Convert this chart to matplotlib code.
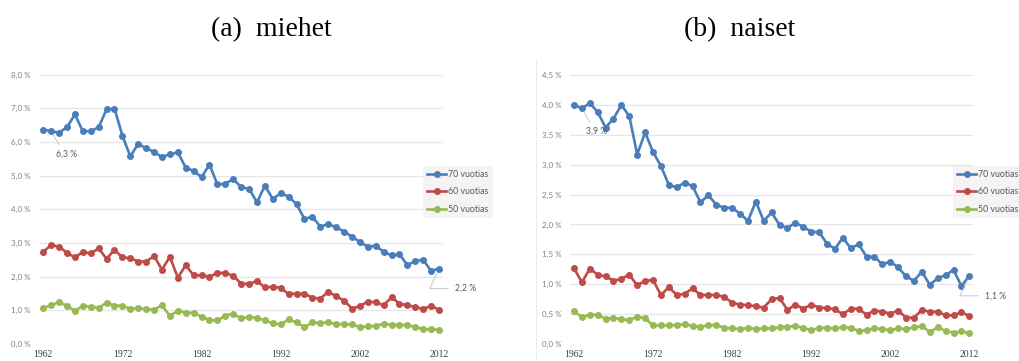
import matplotlib
matplotlib.use("Agg")
import matplotlib.pyplot as plt
from matplotlib.lines import Line2D

# kuolleisuus ikäryhmittäin, 1962-2012
vuodet = list(range(1962, 2013))

miehet_70 = [6.37, 6.32, 6.28, 6.44, 6.82, 6.32, 6.32, 6.44, 6.97, 6.99,
             6.19, 5.57, 5.95, 5.81, 5.71, 5.55, 5.64, 5.69, 5.24, 5.14,
             4.96, 5.33, 4.74, 4.76, 4.90, 4.66, 4.61, 4.21, 4.70, 4.31,
             4.48, 4.38, 4.15, 3.72, 3.78, 3.49, 3.56, 3.47, 3.34, 3.19,
             3.03, 2.89, 2.92, 2.74, 2.63, 2.67, 2.34, 2.47, 2.50, 2.17, 2.24]
miehet_60 = [2.74, 2.94, 2.89, 2.71, 2.57, 2.74, 2.69, 2.84, 2.53, 2.80,
             2.57, 2.55, 2.45, 2.45, 2.61, 2.21, 2.59, 1.97, 2.34, 2.04,
             2.04, 1.99, 2.12, 2.10, 2.03, 1.79, 1.79, 1.87, 1.68, 1.70,
             1.67, 1.48, 1.50, 1.49, 1.38, 1.35, 1.55, 1.42, 1.29, 1.05,
             1.13, 1.26, 1.24, 1.15, 1.39, 1.20, 1.15, 1.10, 1.04, 1.13, 1.02]
miehet_50 = [1.07, 1.15, 1.25, 1.13, 0.99, 1.13, 1.11, 1.07, 1.23, 1.14,
             1.14, 1.04, 1.08, 1.03, 1.02, 1.15, 0.83, 0.99, 0.93, 0.93,
             0.81, 0.71, 0.70, 0.84, 0.90, 0.76, 0.81, 0.77, 0.70, 0.61,
             0.58, 0.73, 0.64, 0.50, 0.64, 0.62, 0.65, 0.59, 0.59, 0.58,
             0.50, 0.52, 0.54, 0.60, 0.57, 0.56, 0.57, 0.50, 0.44, 0.44, 0.42]

naiset_70 = [4.00, 3.94, 4.03, 3.88, 3.62, 3.77, 4.00, 3.81, 3.17, 3.54,
             3.21, 2.98, 2.66, 2.62, 2.70, 2.64, 2.37, 2.49, 2.33, 2.28,
             2.28, 2.18, 2.06, 2.38, 2.06, 2.20, 1.99, 1.94, 2.03, 1.96,
             1.88, 1.87, 1.68, 1.59, 1.78, 1.60, 1.67, 1.46, 1.46, 1.33,
             1.38, 1.28, 1.13, 1.06, 1.21, 0.99, 1.10, 1.15, 1.24, 0.97, 1.14]
naiset_60 = [1.27, 1.03, 1.26, 1.16, 1.13, 1.06, 1.09, 1.16, 0.98, 1.06,
             1.07, 0.82, 0.95, 0.82, 0.84, 0.93, 0.82, 0.82, 0.82, 0.79,
             0.69, 0.66, 0.65, 0.63, 0.61, 0.75, 0.77, 0.57, 0.66, 0.59,
             0.66, 0.61, 0.60, 0.58, 0.50, 0.59, 0.59, 0.49, 0.56, 0.54,
             0.51, 0.56, 0.44, 0.44, 0.57, 0.54, 0.54, 0.48, 0.48, 0.53, 0.47]
naiset_50 = [0.55, 0.45, 0.49, 0.49, 0.42, 0.44, 0.41, 0.40, 0.46, 0.43,
             0.31, 0.31, 0.31, 0.32, 0.33, 0.30, 0.29, 0.31, 0.32, 0.27,
             0.26, 0.25, 0.27, 0.25, 0.26, 0.26, 0.28, 0.29, 0.30, 0.27,
             0.23, 0.27, 0.27, 0.26, 0.28, 0.27, 0.22, 0.23, 0.26, 0.25,
             0.23, 0.26, 0.25, 0.28, 0.30, 0.20, 0.28, 0.22, 0.19, 0.21, 0.18]

sarjat = ["70 vuotias", "60 vuotias", "50 vuotias"]
varit = ["#4a7ebb", "#be4b48", "#98b954"]
x_tikit = [1962, 1972, 1982, 1992, 2002, 2012]

W, H = 1020, 361
fig = plt.figure(figsize=(W / 100, H / 100), dpi=100)
fig.patch.set_facecolor("white")


def pros(v, des=1):
    return f"{v:.{des}f}".replace(".", ",") + " %"


def piirra(rect, data, ymax, ystep, otsikko, otsikko_x, leg_x, eka_idx):
    ax = fig.add_axes(rect)
    for arvot, nimi, vari in zip(data, sarjat, varit):
        ax.plot(vuodet, arvot, color=vari, lw=1.9, marker="o", ms=4.0,
                label=nimi, solid_joinstyle="round", zorder=3)
    ax.set_xlim(1961.5, 2012.5)
    ax.set_ylim(0, ymax)
    yt = [i * ystep for i in range(int(round(ymax / ystep)) + 1)]
    ax.set_yticks(yt)
    ax.set_yticklabels([pros(v) for v in yt], fontsize=5.8,
                       color="#7f7f7f", family="Lato")
    ax.set_xticks(x_tikit)
    ax.set_xticklabels([str(v) for v in x_tikit], fontsize=7,
                       color="#404040", family="Liberation Serif")
    ax.tick_params(length=0, pad=6)
    ax.tick_params(axis="x", pad=4)
    for s in ax.spines.values():
        s.set_visible(False)
    ax.grid(axis="y", color="#e6e6e6", lw=0.9)
    ax.set_axisbelow(True)

    # arvojen selitteet ensimmäiselle ja viimeiselle pisteelle
    sininen = data[0]
    ax.annotate(pros(sininen[eka_idx]), xy=(vuodet[eka_idx], sininen[eka_idx]),
                xytext=(15, -23), textcoords="offset pixels",
                ha="center", va="center", fontsize=6.2, color="#595959",
                family="Lato",
                arrowprops=dict(arrowstyle="-", color="#bfbfbf", lw=0.6,
                                shrinkA=2, shrinkB=3, relpos=(0.3, 1.0)))
    ax.annotate(pros(sininen[-1]), xy=(vuodet[-1], sininen[-1]),
                xytext=(16, -20), textcoords="offset pixels",
                ha="left", va="center", fontsize=6.2, color="#595959",
                family="Lato", annotation_clip=False,
                arrowprops=dict(arrowstyle="-", color="#bfbfbf", lw=0.6,
                                shrinkA=3, shrinkB=3, relpos=(0.0, 0.5),
                                connectionstyle="angle,angleA=0,angleB=65,rad=0"))

    leg = ax.legend(loc="upper left", bbox_to_anchor=(leg_x / W, 1 - 166 / H),
                    bbox_transform=fig.transFigure, frameon=True,
                    handlelength=2.2, handletextpad=0.25,
                    labelspacing=0.95, borderpad=0.45, borderaxespad=0,
                    fancybox=False, prop={"family": "Lato", "size": 6.3})
    leg.get_frame().set_facecolor("#f2f2f2")
    leg.get_frame().set_edgecolor("none")
    for t in leg.get_texts():
        t.set_color("#595959")
    for h in leg.legend_handles:
        h.set_markersize(4.0)
    leg.set_zorder(5)

    fig.text(otsikko_x / W, 1 - 30 / H, otsikko, ha="center", va="center",
             fontsize=20, family="Liberation Serif", color="black")
    return ax


piirra([39.3 / W, 1 - 344 / H, (443 - 39.3) / W, (344 - 74.7) / H],
       [miehet_70, miehet_60, miehet_50], 8.0, 1.0,
       "(a)  miehet", 271, 423, 1)
piirra([570 / W, 1 - 344 / H, (973.3 - 570) / W, (344 - 75) / H],
       [naiset_70, naiset_60, naiset_50], 4.5, 0.5,
       "(b)  naiset", 740, 953, 1)

# ohut reunaviiva kuvien välissä
fig.add_artist(Line2D([536 / W, 536 / W], [0, 1 - 60 / H],
                      transform=fig.transFigure, color="#ececec", lw=0.8))

fig.savefig("out.png", dpi=100, facecolor="white")
